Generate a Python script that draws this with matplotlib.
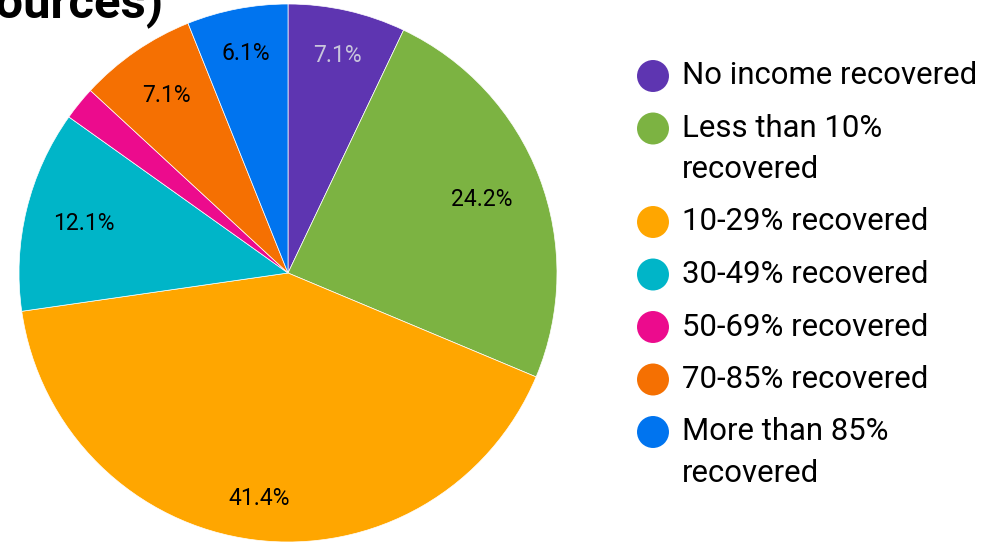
import numpy as np
import matplotlib.pyplot as plt

plt.rcParams['font.family'] = ['Roboto', 'DejaVu Sans']

labels = ["No income recovered", "Less than 10%\nrecovered", "10-29% recovered",
          "30-49% recovered", "50-69% recovered", "70-85% recovered",
          "More than 85%\nrecovered"]
counts = [7, 24, 41, 12, 2, 7, 6]
colors = ["#5e35b1", "#7cb342", "#ffa600", "#00b5c8", "#ec0b8d", "#f57002", "#0074ef"]
# how far out each percent label sits (fraction of radius)
label_dist = [0.83, 0.77, 0.845, 0.78, 0.8, 0.80, 0.83]

W, H = 999, 542
fig = plt.figure(figsize=(W / 100, H / 100), dpi=100)

# pie axes, placed in pixels
cx, cy, r = 288, 273, 269
pax = fig.add_axes([(cx - r) / W, (H - cy - r) / H, 2 * r / W, 2 * r / H])
wedges, texts, autotexts = pax.pie(
    counts, colors=colors, startangle=90, counterclock=False,
    autopct=lambda p: f"{p:.1f}%" if p > 3 else "", pctdistance=0.78,
    wedgeprops=dict(edgecolor="white", linewidth=0.5),
    textprops=dict(fontsize=16.5, color="black"))
for w, t, d in zip(wedges, autotexts, label_dist):
    a = np.deg2rad((w.theta1 + w.theta2) / 2)
    t.set_position((d * np.cos(a), d * np.sin(a)))
autotexts[0].set_color("#c9c6dc")
pax.set_xlim(-1, 1)
pax.set_ylim(-1, 1)
pax.set_aspect("equal")
pax.axis("off")

# overlay in pixel coords for title + legend
lax = fig.add_axes([0, 0, 1, 1], zorder=-1)
lax.set_xlim(0, W)
lax.set_ylim(H, 0)
lax.axis("off")

# title is cut off by the top/left edge; size it so "ources)" spans ~168 px
ren = fig.canvas.get_renderer()
probe = lax.text(0, 0, "ources)", fontsize=32, fontweight="bold")
tw = probe.get_window_extent(ren).width
probe.remove()
lax.text(164, 17, "sources)", fontsize=32 * 168 / tw, fontweight="bold",
         ha="right", va="baseline")

y = 76
for lab, col in zip(labels, colors):
    lax.scatter([653], [y], s=530, color=col, edgecolors="none")
    for k, line in enumerate(lab.split("\n")):
        lax.text(682, y + 41 * k, line, fontsize=22.4, va="center", ha="left")
    y += 52.5 + 41 * lab.count("\n")

fig.savefig("out.png", dpi=100)
